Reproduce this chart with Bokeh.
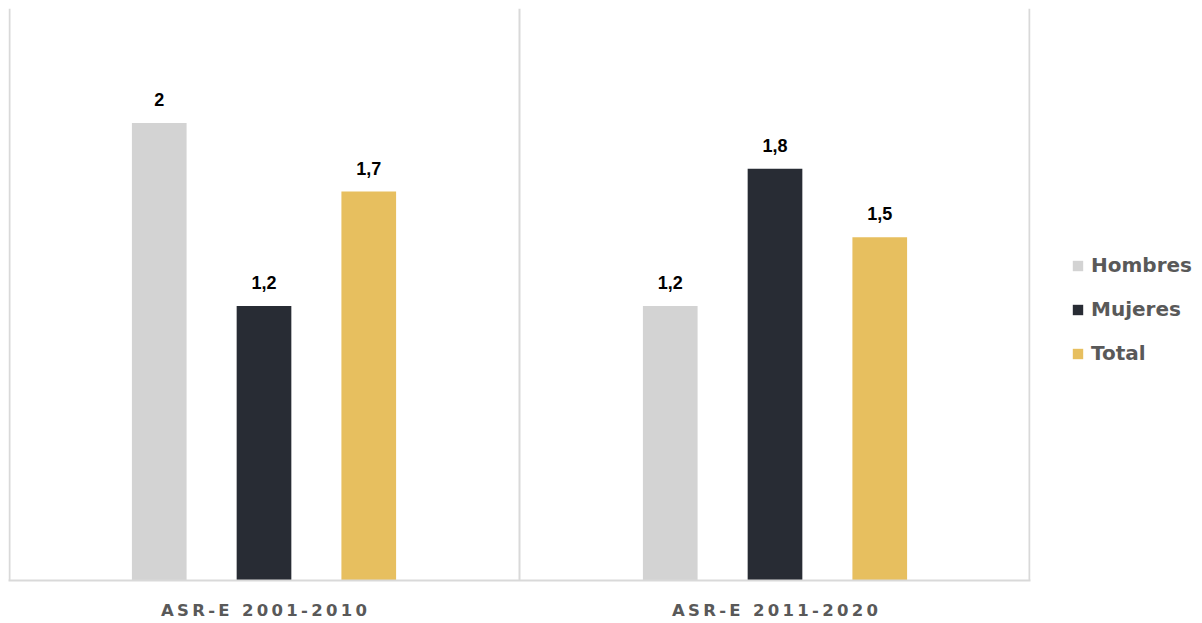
from bokeh.plotting import figure
from bokeh.models import ColumnDataSource, Legend, LegendItem, FixedTicker, Range1d
from bokeh.core.properties import value
from bokeh.embed import file_html
from bokeh.resources import INLINE

groups = ["ASR-E 2001-2010", "ASR-E 2011-2020"]
series = ["Hombres", "Mujeres", "Total"]
hombres = [2.0, 1.2]
mujeres = [1.2, 1.8]
total = [1.7, 1.5]
colors = ["#D3D3D3", "#282C34", "#E7BF5F"]

vals = [hombres, mujeres, total]
offsets = [-0.205, 0.0, 0.205]

p = figure(frame_width=1022, frame_height=572, output_backend="svg", toolbar_location=None,
           x_range=Range1d(0, 2), y_range=Range1d(0, 2.5),
           min_border_left=8, min_border_top=8, min_border_right=172, min_border_bottom=43)
p.outline_line_color = None
p.background_fill_color = "white"
p.border_fill_color = "white"
p.yaxis.visible = False
p.ygrid.grid_line_color = None
p.xgrid.ticker = FixedTicker(ticks=[0.002, 1, 1.998])
p.xgrid.grid_line_color = "#D9D9D9"
p.xgrid.grid_line_width = 2

TS = "\u2009"
p.xaxis.ticker = FixedTicker(ticks=[i + 0.5 for i in range(len(groups))])
p.xaxis.major_label_overrides = {i + 0.5: TS.join(g.replace(" ", "\u00a0")) for i, g in enumerate(groups)}
p.xaxis.major_tick_line_color = None
p.xaxis.minor_tick_line_color = None
p.xaxis.axis_line_color = "#D9D9D9"
p.xaxis.axis_line_width = 2
p.xaxis.major_label_text_font = "DejaVu Sans"
p.xaxis.major_label_text_font_style = "bold"
p.xaxis.major_label_text_font_size = "16.5px"
p.xaxis.major_label_text_color = "#595959"
p.xaxis.major_label_standoff = 14

items = []
for s, v, off, c in zip(series, vals, offsets, colors):
    xs = [i + 0.5 + off for i in range(len(groups))]
    src = ColumnDataSource(dict(x=xs, top=v, lbl=[f"{t:g}".replace(".", ",") for t in v]))
    r = p.vbar(x="x", top="top", bottom=0, width=0.107, source=src, fill_color=c, line_color=None)
    p.text(x="x", y="top", text="lbl", source=src, text_align="center", text_baseline="bottom",
           y_offset=-17, text_font=value("Liberation Sans"), text_font_style="bold",
           text_font_size="18px", text_color="#000000")
    items.append(LegendItem(label=s, renderers=[r]))

legend = Legend(items=items, location=(41, 215), border_line_color=None,
                background_fill_alpha=0, label_text_font="DejaVu Sans", label_text_font_style="bold",
                label_text_font_size="20px", label_text_color="#595959",
                glyph_width=13, glyph_height=13, label_height=20, spacing=20,
                padding=0, margin=0, label_standoff=7)
p.add_layout(legend, "right")

open("out.html", "w").write(file_html(p, INLINE))
